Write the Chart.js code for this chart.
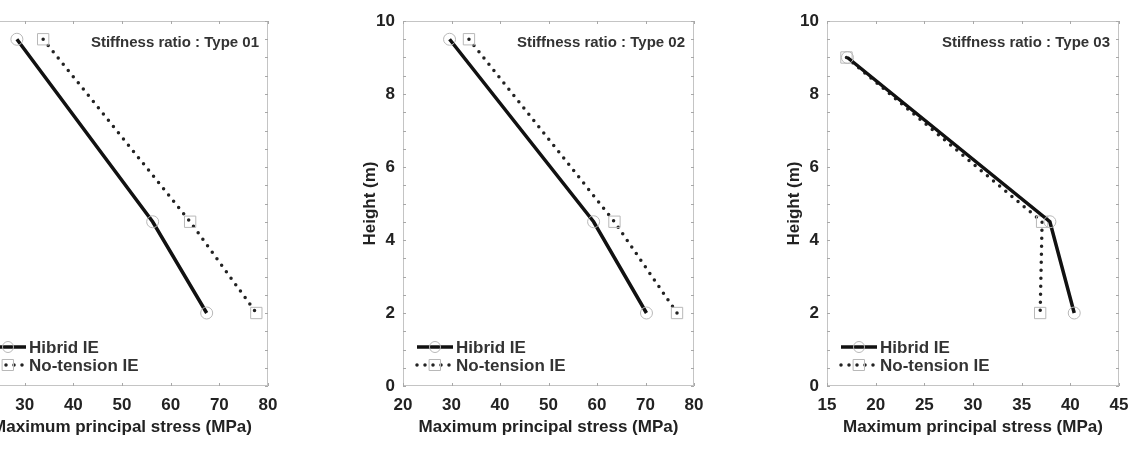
<!DOCTYPE html>
<html>
<head>
<meta charset="utf-8">
<script src="https://cdn.jsdelivr.net/npm/chart.js@4"></script>
<style>
  html, body { margin: 0; padding: 0; background: #fff; }
  body { width: 1130px; height: 450px; position: relative; overflow: hidden; }
  .panel { position: absolute; top: 0; height: 450px; }
</style>
</head>
<body>
<div class="panel" style="left:-84px;width:362px"><canvas id="chart1" width="362" height="450"></canvas></div>
<div class="panel" style="left:343px;width:361px"><canvas id="chart2" width="361" height="450"></canvas></div>
<div class="panel" style="left:767px;width:362px"><canvas id="chart3" width="362" height="450"></canvas></div>
<script>
// Data (stress in MPa, height in m)
const seriesNames = ['Hibrid IE', 'No-tension IE'];
const panelNotes = ['Stiffness ratio : Type 01', 'Stiffness ratio : Type 02', 'Stiffness ratio : Type 03'];

const heights1 = [9.5, 4.5, 2];
const hibrid1 = [28.4, 56.3, 67.4];
const noTension1 = [33.8, 64.0, 77.6];

const heights2 = [9.5, 4.5, 2];
const hibrid2 = [29.6, 59.3, 70.2];
const noTension2 = [33.6, 63.6, 76.5];

const heights3 = [9, 4.5, 2];
const hibrid3 = [17.1, 37.9, 40.4];
const noTension3 = [17.0, 37.1, 36.9];

const xRanges = [[20, 80, 10], [20, 80, 10], [15, 45, 5]];
const yRange = [0, 10, 2];

const textColor = '#222';
const font = 'Liberation Sans';

// Box, inward ticks, legend and note drawn inside the plot area
const framePlugin = {
    id: 'frame',
    beforeDatasetsDraw(chart) {
        const { ctx, chartArea: a, scales: { x, y } } = chart;
        ctx.save();
        ctx.strokeStyle = '#c4c4c4';
        ctx.lineWidth = 1;
        ctx.strokeRect(a.left + 0.5, a.top + 0.5, a.right - a.left - 1, a.bottom - a.top - 1);
        ctx.strokeStyle = '#a8a8a8';
        ctx.beginPath();
        for (let v = y.min; v <= y.max + 1e-9; v += 0.5) {
            const py = Math.round(y.getPixelForValue(v)) + 0.5;
            ctx.moveTo(a.left, py); ctx.lineTo(a.left + 3, py);
            ctx.moveTo(a.right, py); ctx.lineTo(a.right - 3, py);
        }
        x.ticks.forEach(t => {
            const px = Math.round(x.getPixelForValue(t.value)) + 0.5;
            ctx.moveTo(px, a.bottom); ctx.lineTo(px, a.bottom - 3);
            ctx.moveTo(px, a.top); ctx.lineTo(px, a.top + 3);
        });
        ctx.stroke();
        ctx.restore();
    },
    afterDraw(chart, args, opts) {
        const { ctx, chartArea: a } = chart;
        ctx.save();
        // note top right
        ctx.font = 'bold 15px "' + font + '"';
        ctx.fillStyle = '#333';
        ctx.textAlign = 'right';
        ctx.textBaseline = 'middle';
        ctx.fillText(opts.note, a.right - 9, a.top + 22);
        // legend bottom left
        const rows = [a.bottom - 39, a.bottom - 21];
        chart.data.datasets.forEach((ds, i) => {
            const ly = rows[i];
            ctx.strokeStyle = ds.borderColor;
            ctx.lineWidth = ds.borderWidth;
            ctx.lineCap = ds.borderCapStyle || 'butt';
            ctx.setLineDash(ds.borderDash || []);
            ctx.beginPath();
            ctx.moveTo(a.left + 14, ly);
            ctx.lineTo(a.left + 50, ly);
            ctx.stroke();
            ctx.setLineDash([]);
            ctx.lineWidth = 1;
            ctx.strokeStyle = ds.pointBorderColor;
            ctx.beginPath();
            if (ds.pointStyle === 'circle') {
                ctx.arc(a.left + 32, ly, 5.5, 0, Math.PI * 2);
            } else {
                ctx.rect(a.left + 26.5, ly - 5.5, 11, 11);
            }
            ctx.stroke();
            ctx.font = 'bold 17px "' + font + '"';
            ctx.fillStyle = '#333';
            ctx.textAlign = 'left';
            ctx.fillText(ds.label, a.left + 53, ly + 1);
        });
        ctx.restore();
    }
};

function toPoints(xs, ys) {
    return xs.map((v, i) => ({ x: v, y: ys[i] }));
}

function makeChart(id, hibrid, noTension, heights, range, note) {
    return new Chart(document.getElementById(id), {
        type: 'line',
        data: {
            datasets: [
                {
                    label: seriesNames[0],
                    data: toPoints(hibrid, heights),
                    borderColor: '#111',
                    borderWidth: 3.5,
                    pointStyle: 'circle',
                    pointRadius: 6,
                    pointBorderColor: '#b8b8b8',
                    pointBackgroundColor: 'rgba(0,0,0,0)',
                    pointBorderWidth: 1,
                    tension: 0
                },
                {
                    label: seriesNames[1],
                    data: toPoints(noTension, heights),
                    borderColor: '#222',
                    borderWidth: 3.5,
                    borderDash: [0, 8],
                    borderCapStyle: 'round',
                    pointStyle: 'rect',
                    pointRadius: 8,
                    pointBorderColor: '#b8b8b8',
                    pointBackgroundColor: 'rgba(0,0,0,0)',
                    pointBorderWidth: 1,
                    tension: 0
                }
            ]
        },
        options: {
            responsive: false,
            animation: false,
            devicePixelRatio: 1,
            layout: { padding: { top: 21, right: 10, bottom: 0, left: 0 } },
            plugins: {
                legend: { display: false },
                tooltip: { enabled: false },
                frame: { note: note }
            },
            scales: {
                x: {
                    type: 'linear',
                    min: range[0],
                    max: range[1],
                    grid: { display: false, drawTicks: false },
                    border: { display: false },
                    ticks: {
                        stepSize: range[2],
                        padding: 9,
                        color: textColor,
                        font: { family: font, size: 17, weight: 'bold' }
                    },
                    title: {
                        display: true,
                        text: 'Maximum principal stress (MPa)',
                        color: textColor,
                        padding: { top: 0, bottom: 12 },
                        font: { family: font, size: 17, weight: 'bold' }
                    },
                    afterFit: scale => {
                        scale.height = 64;
                        scale.paddingLeft = 0;
                        scale.paddingRight = 0;
                    }
                },
                y: {
                    type: 'linear',
                    min: yRange[0],
                    max: yRange[1],
                    grid: { display: false, drawTicks: false },
                    border: { display: false },
                    ticks: {
                        stepSize: yRange[2],
                        padding: 8,
                        color: textColor,
                        font: { family: font, size: 17, weight: 'bold' }
                    },
                    title: {
                        display: true,
                        text: 'Height (m)',
                        color: textColor,
                        padding: { top: 17, bottom: 0 },
                        font: { family: font, size: 17, weight: 'bold' }
                    },
                    afterFit: scale => {
                        scale.width = 60;
                        scale.paddingTop = 0;
                        scale.paddingBottom = 0;
                    }
                }
            }
        },
        plugins: [framePlugin]
    });
}

makeChart('chart1', hibrid1, noTension1, heights1, xRanges[0], panelNotes[0]);
makeChart('chart2', hibrid2, noTension2, heights2, xRanges[1], panelNotes[1]);
makeChart('chart3', hibrid3, noTension3, heights3, xRanges[2], panelNotes[2]);
</script>
</body>
</html>
